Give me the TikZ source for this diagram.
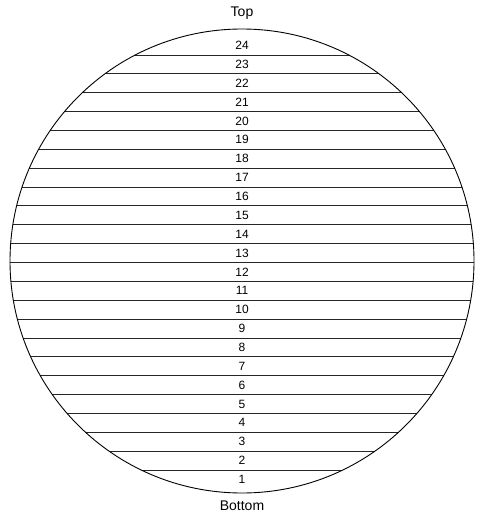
\documentclass[tikz,border=0pt]{standalone}
\usepackage{fontspec}
\setmainfont{Liberation Sans}
\begin{document}
\begin{tikzpicture}[x=1pt,y=-1pt,
  rim/.style={draw=black,line width=0.9pt},
  chord/.style={draw=black!85,line width=0.9pt},
  num/.style={font=\fontsize{12}{14}\selectfont,inner sep=0pt},
  endlabel/.style={font=\fontsize{14}{16}\selectfont,inner sep=0pt}]
\useasboundingbox (0,0) rectangle (478,516);
\def\cx{242}\def\cy{261}\def\R{232}
\coordinate (c) at (\cx,\cy);
\begin{scope}
  \clip (c) circle[radius=\R];
  \foreach \k in {1,...,23}{
    \pgfmathsetmacro{\yy}{470-(\k-1)*18.864}
    \draw[chord] (0,\yy) -- (478,\yy);
  }
\end{scope}
\draw[rim] (c) circle[radius=\R];
\foreach \k in {1,...,24}{
  \pgfmathsetmacro{\yy}{470-(\k-1)*18.864+9.4}
  \node[num] (n\k) at (\cx,\yy) {\k};
}
\node[endlabel] (top) at (\cx,13) {Top};
\node[endlabel] (bottom) at (\cx,506) {Bottom};
\end{tikzpicture}
\end{document}
